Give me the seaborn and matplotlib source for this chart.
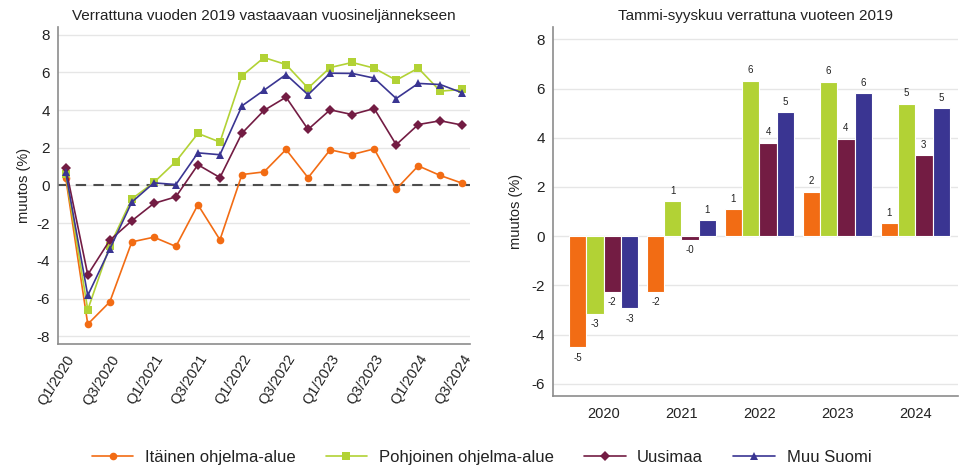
import matplotlib
matplotlib.use("Agg")
import matplotlib.pyplot as plt
import seaborn as sns
import pandas as pd

# Quarterly change vs. same quarter of 2019 (%)
quarters = ["Q1/2020", "Q2/2020", "Q3/2020", "Q4/2020",
            "Q1/2021", "Q2/2021", "Q3/2021", "Q4/2021",
            "Q1/2022", "Q2/2022", "Q3/2022", "Q4/2022",
            "Q1/2023", "Q2/2023", "Q3/2023", "Q4/2023",
            "Q1/2024", "Q2/2024", "Q3/2024"]
regions = ["Itäinen ohjelma-alue", "Pohjoinen ohjelma-alue", "Uusimaa", "Muu Suomi"]

itainen = [0.40, -7.35, -6.17, -2.99, -2.74, -3.23, -1.02, -2.88, 0.58, 0.72,
           1.91, 0.41, 1.89, 1.64, 1.94, -0.19, 1.04, 0.53, 0.12]
pohjoinen = [0.60, -6.59, -3.20, -0.71, 0.16, 1.27, 2.76, 2.30, 5.81, 6.78,
             6.41, 5.16, 6.25, 6.52, 6.22, 5.58, 6.22, 5.00, 5.09]
uusimaa = [0.94, -4.73, -2.90, -1.87, -0.95, -0.60, 1.10, 0.42, 2.77, 3.98,
           4.68, 2.97, 4.01, 3.76, 4.08, 2.16, 3.23, 3.43, 3.20]
muu_suomi = [0.69, -5.83, -3.37, -0.88, 0.14, 0.05, 1.73, 1.63, 4.22, 5.05,
             5.88, 4.81, 5.95, 5.94, 5.69, 4.61, 5.41, 5.35, 4.91]

# January-September change vs. 2019 (%)
years = ["2020", "2021", "2022", "2023", "2024"]
ytd_itainen = [-4.52, -2.26, 1.10, 1.80, 0.52]
ytd_pohjoinen = [-3.16, 1.42, 6.32, 6.28, 5.38]
ytd_uusimaa = [-2.26, -0.14, 3.80, 3.95, 3.28]
ytd_muu_suomi = [-2.94, 0.64, 5.03, 5.80, 5.19]

colors = ["#F26C14", "#B2D235", "#731C43", "#3A3592"]
palette = dict(zip(regions, colors))
markers = dict(zip(regions, ["o", "s", "D", "^"]))

quarterly = [itainen, pohjoinen, uusimaa, muu_suomi]
ytd = [ytd_itainen, ytd_pohjoinen, ytd_uusimaa, ytd_muu_suomi]

line_df = pd.DataFrame(
    [(i, q, r, v) for r, vals in zip(regions, quarterly)
     for i, (q, v) in enumerate(zip(quarters, vals))],
    columns=["pos", "quarter", "region", "value"])
bar_df = pd.DataFrame(
    [(y, r, v) for r, vals in zip(regions, ytd) for y, v in zip(years, vals)],
    columns=["year", "region", "value"])

sns.set_theme(style="white")
plt.rcParams["font.family"] = ["Liberation Sans", "DejaVu Sans"]
plt.rcParams["axes.unicode_minus"] = False
plt.rcParams["text.color"] = "#222222"
plt.rcParams["axes.labelcolor"] = "#222222"
plt.rcParams["xtick.color"] = "#222222"
plt.rcParams["ytick.color"] = "#222222"

fig = plt.figure(figsize=(9.59, 4.67), dpi=100)
ax1 = fig.add_axes([0.0605, 0.2634, 0.4296, 0.6788])
ax2 = fig.add_axes([0.5766, 0.152, 0.4224, 0.790])

spine_col = "#8c8c8c"
grid_col = "#e6e6e6"

# --- quarterly line chart ---
sns.lineplot(data=line_df, x="pos", y="value", hue="region", style="region",
             hue_order=regions, style_order=regions, palette=palette,
             markers=markers, dashes=False, markersize=5.5, markeredgewidth=0,
             linewidth=1.2, ax=ax1)
for ln in ax1.lines:
    if ln.get_marker() == "D":
        ln.set_markersize(4.8)
handles, labels = ax1.get_legend_handles_labels()
ax1.get_legend().remove()

ax1.axhline(0, color="#4d4d4d", lw=1.5, ls=(0, (5, 3.5)), zorder=1.5)
ax1.set_xlim(-0.35, len(quarters) - 1 + 0.35)
ax1.set_ylim(-8.4, 8.4)
ax1.set_yticks(range(-8, 9, 2))
ax1.set_xticks(range(len(quarters)))
ax1.set_xticklabels([q if i % 2 == 0 else "" for i, q in enumerate(quarters)],
                    rotation=58, ha="right", rotation_mode="anchor")
ax1.set_xlabel("")
ax1.set_ylabel("muutos (%)", fontsize=10.5, labelpad=4)
ax1.set_title("Verrattuna vuoden 2019 vastaavaan vuosineljännekseen",
              fontsize=11, pad=5)

# --- year-to-date bar chart ---
sns.barplot(data=bar_df, x="year", y="value", hue="region", hue_order=regions,
            palette=palette, saturation=1, width=0.89, errorbar=None,
            edgecolor="white", linewidth=0.8, legend=False, ax=ax2)
for cont in ax2.containers:
    ax2.bar_label(cont, fmt="%.0f", padding=4, fontsize=7, color="#222222")
ax2.set_xlim(-0.65, 4.55)
ax2.set_ylim(-6.5, 8.5)
ax2.set_yticks(range(-6, 9, 2))
ax2.set_xlabel("")
ax2.set_ylabel("muutos (%)", fontsize=10.5, labelpad=6)
ax2.set_title("Tammi-syyskuu verrattuna vuoteen 2019", fontsize=11, pad=5)

for ax in (ax1, ax2):
    ax.set_axisbelow(True)
    ax.grid(axis="y", color=grid_col, lw=1)
    ax.grid(axis="x", visible=False)
    for s in ("top", "right"):
        ax.spines[s].set_visible(False)
    for s in ("left", "bottom"):
        ax.spines[s].set_color(spine_col)
        ax.spines[s].set_linewidth(1.2)
    ax.tick_params(axis="y", labelsize=11, length=4, width=1, color=spine_col, pad=2)
ax1.tick_params(axis="x", labelsize=10.5, length=4, width=1, color=spine_col, pad=2)
ax2.tick_params(axis="x", labelsize=10.5, length=0, pad=8)

fig.legend(handles, labels, loc="center", bbox_to_anchor=(0.502, 0.021),
           ncol=4, frameon=False, fontsize=12, handlelength=2.5,
           handletextpad=0.7, columnspacing=1.8, borderaxespad=0, borderpad=0)

fig.savefig("out.png", dpi=100)
